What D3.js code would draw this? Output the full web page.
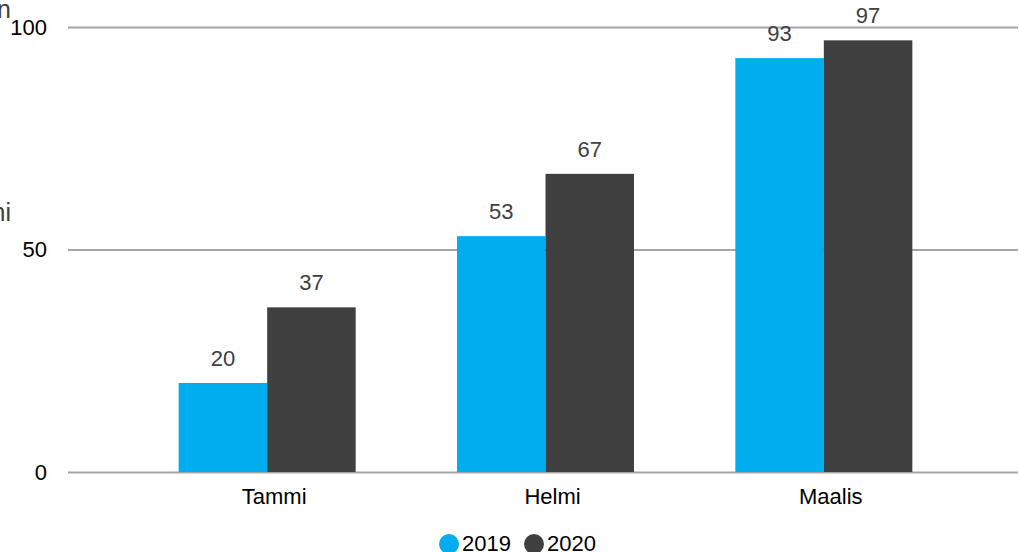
<!DOCTYPE html>
<html>
<head>
<meta charset="utf-8">
<script src="https://cdn.jsdelivr.net/npm/d3@7"></script>
<style>
  body { margin: 0; background: #fff; }
  text { font-family: "Liberation Sans", Arial, sans-serif; }
</style>
</head>
<body>
<div id="chart"></div>
<script>
"use strict";

const months = ["Tammi", "Helmi", "Maalis"];
const years = ["2019", "2020"];
const values2019 = [20, 53, 93];
const values2020 = [37, 67, 97];
const yTicks = [0, 50, 100];
const colors = ["#00adef", "#404040"];

let svg = d3.select("#chart")
    .append("svg")
    .attr("width", 1019)
    .attr("height", 552);

let y = d3.scaleLinear().domain([0, 100]).range([472, 27]);

let x = d3.scaleBand()
    .domain(months)
    .range([128, 963])
    .paddingInner(0.364)
    .paddingOuter(0.182);

let xSub = d3.scaleBand()
    .domain(years)
    .range([0, x.bandwidth()]);

// gridlines + y labels
let yAxis = svg.append("g").attr("transform", "translate(68,0)")
    .call(d3.axisLeft(y).tickValues(yTicks).tickSize(-950).tickPadding(21));
yAxis.select(".domain").remove();
yAxis.selectAll("line").attr("stroke", "#a6a6a6").attr("stroke-width", 2);
yAxis.selectAll("text").attr("font-size", 22).attr("fill", "#000")
    .attr("font-family", "Liberation Sans, Arial, sans-serif");

// clipped axis title fragments
svg.append("text").attr("x", 11).attr("y", 18).attr("text-anchor", "end")
    .attr("font-size", 25).attr("fill", "#404040").text("Lukumäärä kuukausittain");
svg.append("text").attr("x", 11).attr("y", 221).attr("text-anchor", "end")
    .attr("font-size", 25).attr("fill", "#404040").text("Kuukauden määrä, yksikköni");

let rows = months.map((m, i) => ({ month: m, vals: [values2019[i], values2020[i]] }));

let groups = svg.append("g").selectAll("g")
    .data(rows)
    .join("g")
    .attr("transform", d => `translate(${x(d.month)},0)`);

groups.selectAll("rect")
    .data(d => d.vals.map((v, j) => ({ year: years[j], v: v, j: j })))
    .join("rect")
    .attr("x", d => xSub(d.year))
    .attr("width", xSub.bandwidth())
    .attr("y", d => y(d.v))
    .attr("height", d => y(0) - y(d.v))
    .attr("fill", d => colors[d.j]);

groups.selectAll("text.val")
    .data(d => d.vals.map((v, j) => ({ year: years[j], v: v })))
    .join("text")
    .attr("class", "val")
    .attr("x", d => xSub(d.year) + xSub.bandwidth() / 2)
    .attr("y", d => y(d.v) - 17)
    .attr("text-anchor", "middle")
    .attr("font-size", 22)
    .attr("fill", "#404040")
    .text(d => d.v);

// category labels
svg.append("g").selectAll("text")
    .data(months)
    .join("text")
    .attr("x", d => x(d) + x.bandwidth() / 2 + 7)
    .attr("y", 504)
    .attr("text-anchor", "middle")
    .attr("font-size", 22)
    .attr("fill", "#000")
    .text(d => d);

// legend
let legend = svg.append("g").selectAll("g")
    .data(years)
    .join("g")
    .attr("transform", (d, i) => `translate(${449 + i * 85},544)`);
legend.append("circle").attr("r", 10).attr("fill", (d, i) => colors[i]);
legend.append("text").attr("x", 13).attr("y", 7).attr("font-size", 22)
    .attr("fill", "#000").text(d => d);
</script>
</body>
</html>
